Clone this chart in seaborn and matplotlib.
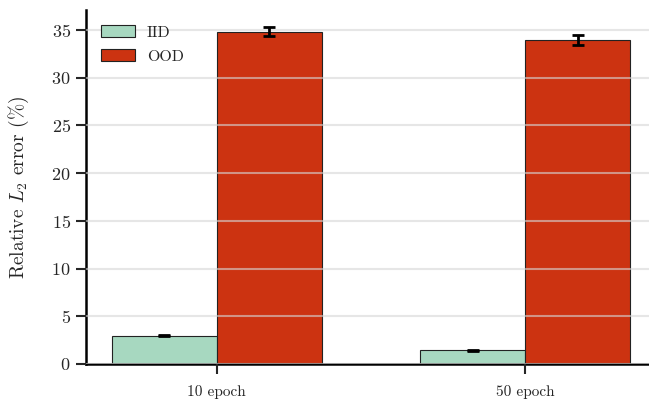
import matplotlib
matplotlib.use("Agg")
import matplotlib.pyplot as plt
import numpy as np
import pandas as pd
import seaborn as sns

# Relative L2 error (%) after training, in- vs out-of-distribution
epochs = ["10 epoch", "50 epoch"]
splits = ["IID", "OOD"]
iid_mean = [2.95, 1.46]
iid_err = [0.05, 0.05]
ood_mean = [34.8, 33.95]
ood_err = [0.45, 0.5]

palette = {"IID": "#a7d8c0", "OOD": "#cc3311"}

sns.set_style("white")
plt.rcParams["font.family"] = ["cmr10", "DejaVu Serif"]
plt.rcParams["mathtext.fontset"] = "cm"
plt.rcParams["axes.formatter.use_mathtext"] = True

df = pd.DataFrame({
    "epoch": epochs * 2,
    "split": ["IID"] * len(epochs) + ["OOD"] * len(epochs),
    "value": iid_mean + ood_mean,
    "err": iid_err + ood_err,
})

fig = plt.figure(figsize=(6.49, 4.05), dpi=100)
ax = fig.add_axes([86 / 649, 41 / 405, (656 - 86) / 649, 354 / 405])

sns.barplot(data=df, x="epoch", y="value", hue="split", hue_order=splits,
            order=epochs, palette=palette, saturation=1, width=0.68, gap=0,
            errorbar=None, edgecolor="#222222", linewidth=0.8, ax=ax)

# error bars centred on each drawn bar
for cont, split in zip(ax.containers, splits):
    sub = df[df["split"] == split].set_index("epoch").loc[epochs]
    xs = [p.get_x() + p.get_width() / 2 for p in cont.patches]
    ax.errorbar(xs, sub["value"].values, yerr=sub["err"].values, fmt="none",
                ecolor="black", elinewidth=2, capsize=4.3, capthick=2, zorder=5)

ax.set_xlim(-0.424, 1.424)
ax.set_ylim(0, 37.07)
ax.set_yticks(np.arange(0, 36, 5))
ax.yaxis.grid(True, color="#d6d6d6", linewidth=1.5, alpha=0.6)
ax.set_axisbelow(False)

ax.set_xlabel("")
ax.set_ylabel(r"Relative $L_2$ error (%)", fontsize=14)
ax.yaxis.set_label_coords(-0.097, 0.5)
ax.tick_params(axis="y", labelsize=13, length=7, width=1.5, direction="out",
               left=True, pad=4)
ax.tick_params(axis="x", labelsize=11, length=7, width=1.5, direction="out",
               bottom=True, pad=8)

for s in ["top", "right"]:
    ax.spines[s].set_visible(False)
for s in ["left", "bottom"]:
    ax.spines[s].set_color("black")
    ax.spines[s].set_linewidth(1.8)

ax.legend(loc="upper left", frameon=False, fontsize=11.5, handlelength=2.1,
          handleheight=0.75, handletextpad=0.75, labelspacing=0.6,
          bbox_to_anchor=(0.0, 1.0), borderaxespad=0.55)

fig.savefig("out.png", dpi=100)
